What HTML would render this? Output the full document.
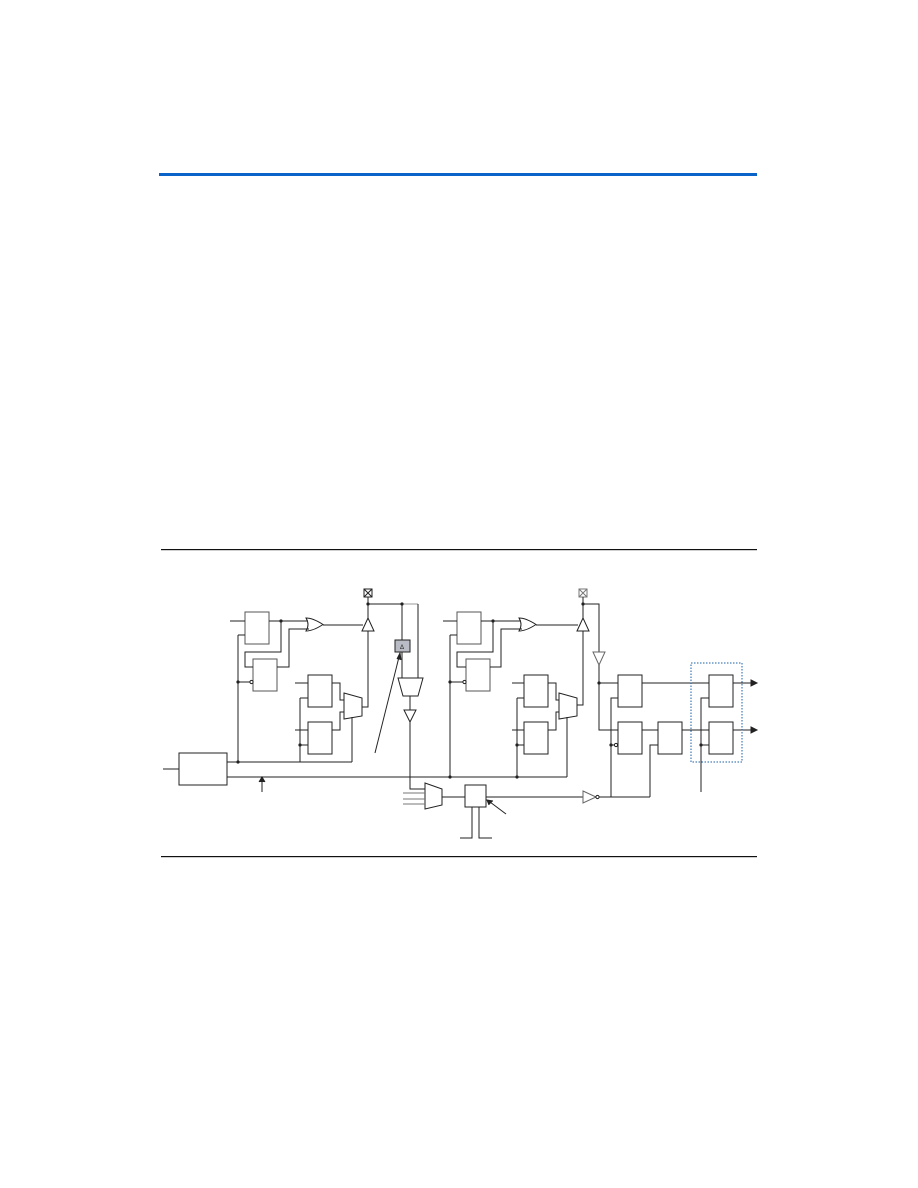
<!DOCTYPE html>
<html><head><meta charset="utf-8"><style>
html,body{margin:0;padding:0;background:#fff;}
svg{display:block;}
</style></head><body>
<svg width="918" height="1188" viewBox="0 0 918 1188" xmlns="http://www.w3.org/2000/svg">
<rect x="159" y="173" width="598" height="3" fill="#0a63c9"/>
<rect x="161" y="549" width="596" height="1.2" fill="#111"/>
<rect x="161" y="856" width="596" height="1.2" fill="#111"/>
<defs>
<marker id="ah" markerWidth="6" markerHeight="6" refX="5" refY="3" orient="auto"><path d="M0,0 L6,3 L0,6 z" fill="#222"/></marker>
</defs>
<g fill="none" stroke="#222" stroke-width="1">
<!-- left big box -->
<rect x="179" y="753" width="48" height="32"/>
<line x1="163" y1="769" x2="179" y2="769"/>
<line x1="227" y1="762" x2="352" y2="762"/>
<line x1="227" y1="777" x2="567" y2="777"/>
<line x1="262" y1="792" x2="262" y2="779"/>
<path d="M259,782 L262,777 L265,782" fill="#222"/>
<!-- LEFT SECTION -->
<rect x="245" y="612" width="24" height="32" stroke="#555"/>
<rect x="253" y="659" width="24" height="32" stroke="#555"/>
<line x1="230" y1="621" x2="245" y2="621"/>
<line x1="238" y1="635" x2="238" y2="762"/>
<line x1="238" y1="635" x2="245" y2="635"/>
<line x1="238" y1="682" x2="250" y2="682"/>
<circle cx="251.5" cy="682" r="1.6" fill="#fff"/>
<line x1="269" y1="621" x2="308" y2="621"/>
<path d="M281,621 V652 H245 V667 H253"/>
<path d="M277,667 H289 V629 H309"/>
<path d="M306,618 Q313,618 323,624.5 Q313,631 306,631 Q310,624.5 306,618 z"/>
<line x1="323" y1="625" x2="363" y2="625"/>
<path d="M362,631 L368,618 L374,631 z"/>
<rect x="364" y="589" width="8" height="8"/>
<path d="M364,589 L372,597 M372,589 L364,597"/>
<line x1="368" y1="597" x2="368" y2="618"/>
<line x1="368" y1="604" x2="402" y2="604"/>
<line x1="402" y1="604" x2="418" y2="604" stroke="#999"/>
<line x1="418" y1="604" x2="418" y2="678"/>
<line x1="402" y1="604" x2="402" y2="640"/>
<rect x="395" y="640" width="15" height="12" fill="#b9bcc4"/>
<text x="400" y="649" font-family="Liberation Sans, sans-serif" font-size="6" fill="#222" stroke="none">Δ</text>
<line x1="402" y1="652" x2="402" y2="678"/>
<path d="M398,678 L423,678 L418,696 L403,696 z"/>
<line x1="410" y1="696" x2="410" y2="710"/>
<path d="M404,710 L416,710 L410,722 z"/>
<path d="M410,722 V789 H425"/>
<line x1="375" y1="753" x2="399" y2="657"/>
<path d="M397,659 L400,653 L401,660" fill="#222"/>
<!-- FF3/FF4 left -->
<rect x="308" y="675" width="24" height="32"/>
<rect x="308" y="722" width="24" height="32"/>
<line x1="295" y1="683" x2="308" y2="683"/>
<line x1="295" y1="730" x2="308" y2="730"/>
<line x1="300" y1="698" x2="300" y2="762"/>
<line x1="300" y1="698" x2="308" y2="698"/>
<line x1="300" y1="745" x2="308" y2="745"/>
<path d="M332,683 H340 V700 H344"/>
<path d="M332,730 H340 V712 H344"/>
<path d="M344,693 L362,698 L362,716 L344,719 z"/>
<path d="M362,707 H368 V631"/>
<line x1="352" y1="717" x2="352" y2="762"/>
<!-- mux2 + box -->
<path d="M425,783 L442,789 L442,805 L425,809 z"/>
<line x1="403" y1="793" x2="425" y2="793" stroke="#777"/>
<line x1="403" y1="799" x2="425" y2="799" stroke="#777"/>
<line x1="403" y1="804" x2="425" y2="804" stroke="#777"/>
<line x1="442" y1="797" x2="465" y2="797"/>
<rect x="465" y="785" width="21" height="22"/>
<line x1="486" y1="797" x2="583" y2="797"/>
<path d="M583,791 L596,797 L583,803 z" stroke="#666"/>
<circle cx="597.5" cy="797" r="1.6" fill="#fff"/>
<line x1="599" y1="797" x2="650" y2="797"/>
<path d="M472,807 V838 H460"/>
<path d="M479,807 V838 H492"/>
<line x1="506" y1="814" x2="490" y2="802"/>
<path d="M489,805 L487,800 L493,801" fill="#222"/>
<!-- RIGHT SECTION -->
<rect x="457" y="612" width="24" height="32" stroke="#555"/>
<rect x="466" y="659" width="24" height="32" stroke="#555"/>
<line x1="443" y1="621" x2="457" y2="621"/>
<line x1="450" y1="635" x2="450" y2="777"/>
<line x1="450" y1="635" x2="457" y2="635"/>
<line x1="450" y1="682" x2="463" y2="682"/>
<circle cx="464.5" cy="682" r="1.6" fill="#fff"/>
<line x1="481" y1="621" x2="521" y2="621"/>
<path d="M493,621 V652 H457 V667 H466"/>
<path d="M490,667 H501 V629 H522"/>
<path d="M519,618 Q526,618 536,624.5 Q526,631 519,631 Q523,624.5 519,618 z"/>
<line x1="536" y1="625" x2="578" y2="625"/>
<path d="M577,631 L583,618 L589,631 z"/>
<rect x="579" y="589" width="8" height="8" stroke="#777"/>
<path d="M579,589 L587,597 M587,589 L579,597" stroke="#777"/>
<line x1="583" y1="597" x2="583" y2="618"/>
<path d="M583,604 H599 V652"/>
<path d="M593,652 L605,652 L599,665 z" stroke="#666"/>
<rect x="524" y="675" width="24" height="32"/>
<rect x="524" y="722" width="24" height="32"/>
<line x1="512" y1="683" x2="524" y2="683"/>
<line x1="512" y1="730" x2="524" y2="730"/>
<line x1="517" y1="698" x2="517" y2="777"/>
<line x1="517" y1="698" x2="524" y2="698"/>
<line x1="517" y1="745" x2="524" y2="745"/>
<path d="M548,683 H556 V700 H559"/>
<path d="M548,730 H556 V712 H559"/>
<path d="M559,693 L577,698 L577,716 L559,719 z"/>
<path d="M577,705 H583 V631"/>
<line x1="567" y1="717" x2="567" y2="777"/>
<!-- FAR RIGHT -->
<path d="M599,665 V730 H618"/>
<line x1="599" y1="683" x2="618" y2="683"/>
<rect x="618" y="675" width="24" height="32"/>
<rect x="618" y="722" width="24" height="32"/>
<rect x="658" y="722" width="24" height="32"/>
<rect x="709" y="675" width="24" height="32"/>
<rect x="709" y="722" width="24" height="32"/>
<line x1="642" y1="683" x2="709" y2="683"/>
<line x1="642" y1="730" x2="658" y2="730"/>
<line x1="682" y1="730" x2="709" y2="730"/>
<line x1="733" y1="683" x2="752" y2="683"/>
<line x1="733" y1="730" x2="752" y2="730"/>
<path d="M751,680 L757,683 L751,686 z" fill="#222"/>
<path d="M751,727 L757,730 L751,733 z" fill="#222"/>
<path d="M611,797 V698 H618"/>
<line x1="611" y1="745" x2="614" y2="745"/>
<circle cx="616" cy="745" r="1.6" fill="#fff"/>
<path d="M650,797 V745 H658"/>
<path d="M701,792 V698 H709"/>
<line x1="701" y1="745" x2="709" y2="745"/>
<rect x="691" y="663" width="51" height="99" stroke="#1a5fa8" stroke-dasharray="1.5,1.5"/>
</g>
<g fill="#222">
<circle cx="281" cy="621" r="1.6"/><circle cx="238" cy="682" r="1.6"/><circle cx="238" cy="762" r="1.6"/>
<circle cx="300" cy="745" r="1.6"/><circle cx="368" cy="604" r="1.6"/><circle cx="402" cy="604" r="1.6"/>
<circle cx="493" cy="621" r="1.6"/><circle cx="450" cy="682" r="1.6"/><circle cx="450" cy="777" r="1.6"/>
<circle cx="517" cy="745" r="1.6"/><circle cx="517" cy="777" r="1.6"/><circle cx="583" cy="604" r="1.6"/>
<circle cx="599" cy="683" r="1.6"/><circle cx="611" cy="745" r="1.6"/><circle cx="701" cy="745" r="1.6"/>
</g>
</svg>
</body></html>
